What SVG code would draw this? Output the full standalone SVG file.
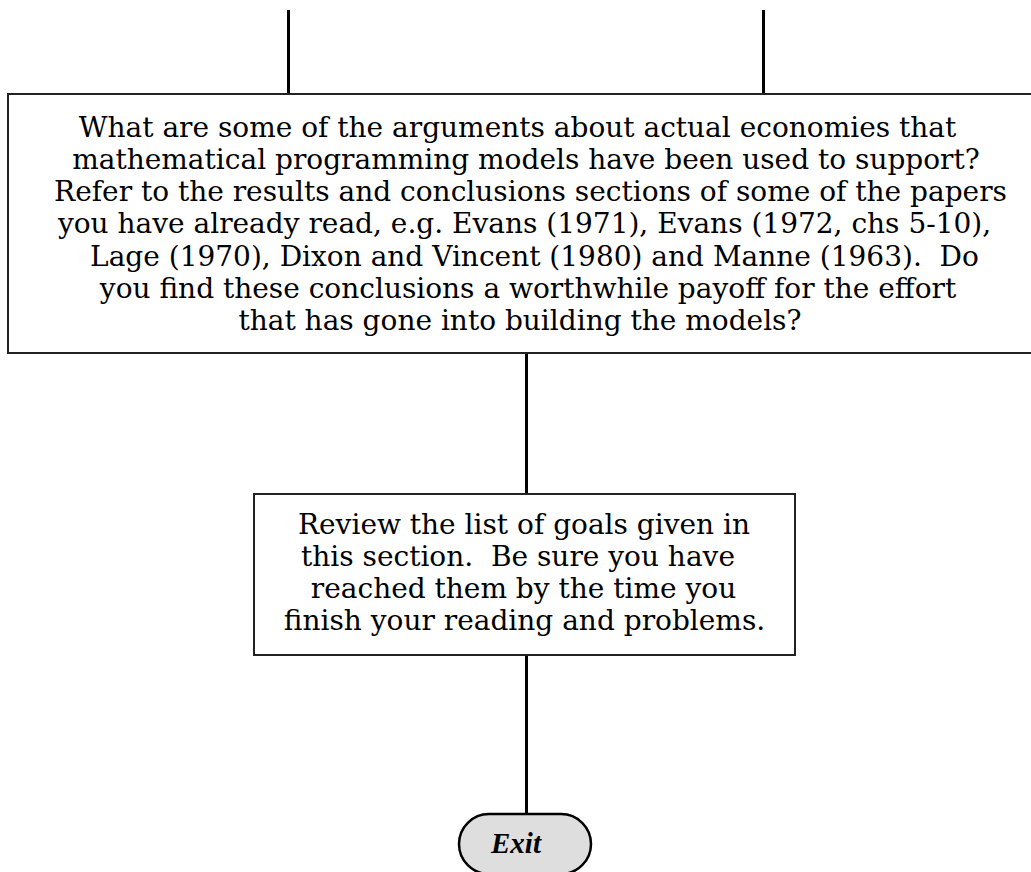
<svg xmlns="http://www.w3.org/2000/svg" width="1031" height="872" viewBox="0 0 1031 872">
<style>
.box{fill:#fff;stroke:#222;stroke-width:2}
.t{font-family:"DejaVu Serif","Liberation Serif",serif;font-size:28px;fill:#000;text-anchor:middle;white-space:pre}
.c{stroke:#000;stroke-width:3;fill:none}
.pill{fill:#dedede;stroke:#000;stroke-width:2.5}
.exit{font-family:"Liberation Serif","DejaVu Serif",serif;font-size:29px;font-weight:bold;font-style:italic;fill:#000}
</style>
<rect width="1031" height="872" fill="#fff"/>
<g id="connectors">
<line class="c" x1="288.5" y1="10" x2="288.5" y2="93"/>
<line class="c" x1="763.5" y1="10" x2="763.5" y2="93"/>
<line class="c" x1="526.5" y1="354" x2="526.5" y2="494"/>
<line class="c" x1="526.5" y1="655" x2="526.5" y2="813"/>
</g>
<g id="node-question">
<rect class="box" x="8" y="94" width="1040" height="259"/>
<text class="t" x="517.5" y="137">What are some of the arguments about actual economies that</text>
<text class="t" x="526" y="169">mathematical programming models have been used to support?</text>
<text class="t" x="530.5" y="201">Refer to the results and conclusions sections of some of the papers</text>
<text class="t" x="524.5" y="233">you have already read, e.g. Evans (1971), Evans (1972, chs 5-10),</text>
<text class="t" x="534.5" y="266">Lage (1970), Dixon and Vincent (1980) and Manne (1963).  Do</text>
<text class="t" x="528" y="298">you find these conclusions a worthwhile payoff for the effort</text>
<text class="t" x="520" y="330">that has gone into building the models?</text>
</g>
<g id="node-review">
<rect class="box" x="254" y="494" width="541" height="161"/>
<text class="t" x="524" y="534">Review the list of goals given in</text>
<text class="t" x="518" y="566">this section.  Be sure you have</text>
<text class="t" x="523.5" y="598">reached them by the time you</text>
<text class="t" x="524.5" y="630">finish your reading and problems.</text>
</g>
<g id="node-exit">
<rect class="pill" x="459" y="814" width="132" height="60" rx="30" ry="30"/>
<text class="exit" x="491" y="853">Exit</text>
</g>
</svg>
